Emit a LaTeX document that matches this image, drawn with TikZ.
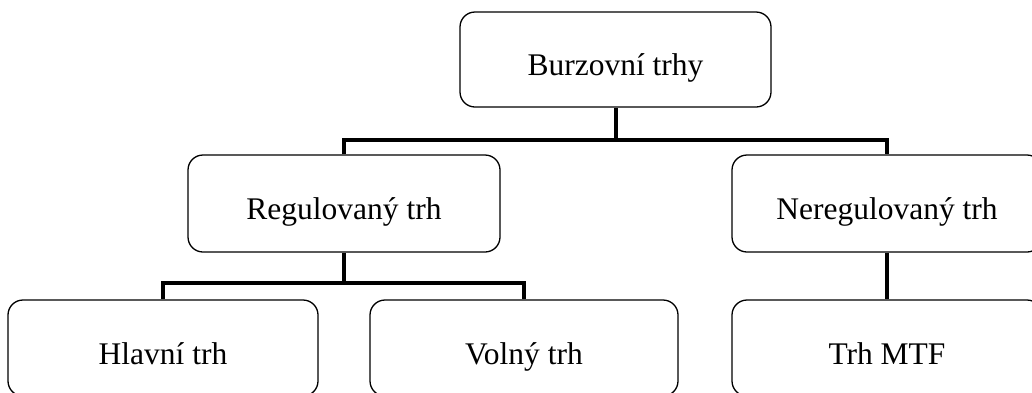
\documentclass[tikz,border=0pt]{standalone}
\usepackage{fontspec}
\setmainfont{Liberation Serif}
\begin{document}
\begin{tikzpicture}[x=1pt,y=-1pt,
  box/.style={draw, line width=1.3pt, rounded corners=15pt, fill=white,
    inner sep=0pt, text height=32pt, text depth=0pt, font=\fontsize{31.5}{36}\selectfont},
  conn/.style={line width=4pt, line join=miter}]
\useasboundingbox (0,0) rectangle (1032,392);
\node[box, minimum width=311pt, minimum height=95pt] (top) at (615.5,59.5) {Burzovní trhy};
\node[box, minimum width=312pt, minimum height=97pt] (ml) at (344,203.5) {Regulovaný trh};
\node[box, minimum width=310pt, minimum height=97pt] (mr) at (887,203.5) {Neregulovaný trh};
\node[box, minimum width=310pt, minimum height=96pt] (b1) at (163,348) {Hlavní trh};
\node[box, minimum width=308pt, minimum height=96pt] (b2) at (524,348) {Volný trh};
\node[box, minimum width=310pt, minimum height=96pt] (b3) at (887,348) {Trh MTF};
\coordinate (j1) at (615.5,140);
\coordinate (j2) at (344,283);
\draw[conn] (top.south) -- (j1);
\draw[conn] (ml.north) |- (j1) -| (mr.north);
\draw[conn] (ml.south) -- (j2);
\draw[conn] (b1.north) |- (j2) -| (b2.north);
\draw[conn] (mr.south) -- (b3.north);
\end{tikzpicture}
\end{document}
